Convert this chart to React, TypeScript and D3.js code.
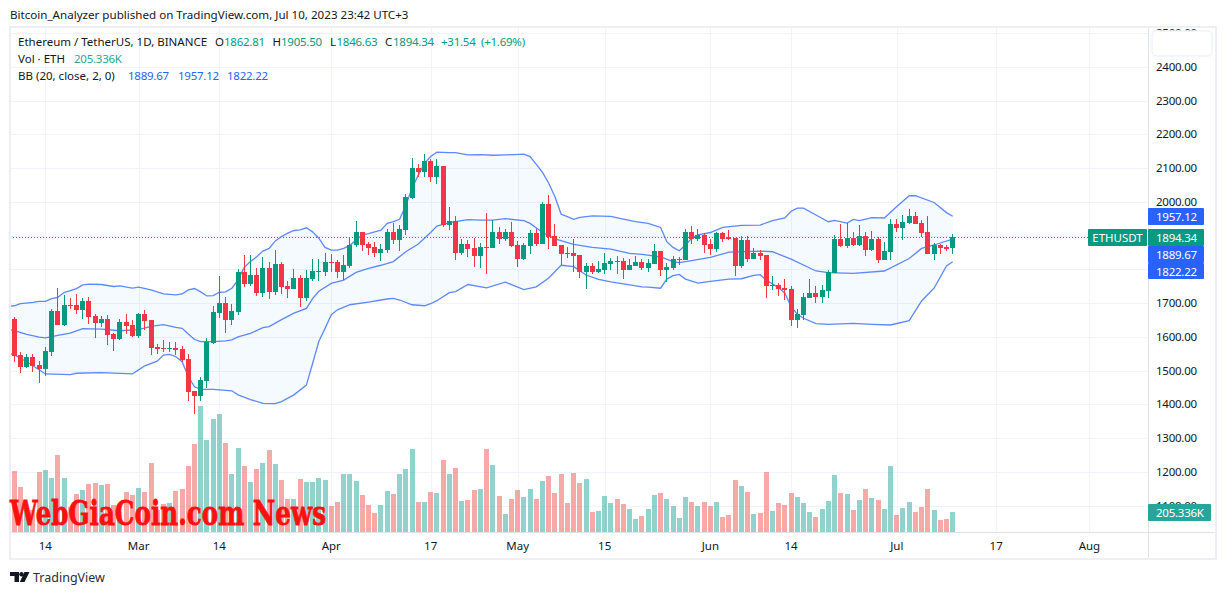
import * as d3 from "d3";

// daily candles, 2023-02-09 .. 2023-07-10
const opens = [
  1651.8, 1545, 1511.5, 1540, 1516.5, 1505.6, 1556, 1676.5, 1636, 1695.2,
  1694.3, 1680.4, 1706, 1661.7, 1641.9, 1652.8, 1608.3, 1594.5, 1643.9, 1635,
  1602.4, 1667.6, 1649.8, 1568.8, 1566.8, 1564.9, 1566.8, 1563.9, 1534.2, 1439.4,
  1425.6, 1470, 1580.7, 1671.5, 1700.2, 1650.8, 1674.5, 1792, 1756, 1783,
  1730.8, 1804, 1732.8, 1815.7, 1750.5, 1742, 1774, 1715, 1771, 1792,
  1792, 1821.6, 1821.6, 1793, 1808.8, 1871, 1910.5, 1875, 1866, 1848,
  1857, 1910.5, 1887, 1916.4, 2011, 2100, 2088, 2121, 2073.5, 2106,
  1931, 1943, 1848, 1875, 1863, 1839.4, 1866, 1863, 1910.5, 1889.8,
  1910.5, 1872, 1830.5, 1869, 1907.5, 1875, 1993.5, 1898.6, 1872, 1848,
  1848, 1842.4, 1792, 1809.8, 1792, 1798, 1815.7, 1824.6, 1824.6, 1798,
  1809.8, 1821.7, 1803.9, 1815.7, 1854.3, 1798, 1803.9, 1827.6, 1827.6, 1910.5,
  1889.8, 1901.7, 1875, 1860.2, 1907.6, 1895.7, 1892.8, 1809.8, 1886.8, 1830.5,
  1848.3, 1842.4, 1750.5, 1753.5, 1744.6, 1741.7, 1649.8, 1664.6, 1715, 1729.8,
  1718, 1735.7, 1789, 1889.8, 1869, 1892.8, 1872, 1898.7, 1857.2, 1889.8,
  1827.6, 1851.3, 1934.3, 1922.4, 1937.2, 1958, 1937.2, 1910.5, 1845.4, 1872,
  1866, 1862.81,
];
const closes = [
  1544.1, 1511.5, 1540, 1513.5, 1505.6, 1558, 1676.5, 1636, 1694.3, 1692.3,
  1680.4, 1706, 1659.7, 1641.9, 1652.8, 1606.4, 1594.5, 1643.9, 1633, 1602.4,
  1668.6, 1647.8, 1567.8, 1563.9, 1564.9, 1566.8, 1561.9, 1531.3, 1437.5, 1425.6,
  1472, 1583.6, 1673.5, 1700.2, 1650.8, 1676.5, 1792, 1756, 1783, 1729.8,
  1803.9, 1731.8, 1815.7, 1748.6, 1741.7, 1774, 1715, 1774, 1795, 1795,
  1821.6, 1818.6, 1792, 1812.7, 1871, 1910.5, 1871, 1863, 1848, 1860,
  1910.5, 1887, 1919.4, 2014, 2100, 2088, 2121, 2073.5, 2106, 1931,
  1943, 1848, 1875, 1860, 1839.4, 1866, 1863, 1910.5, 1889.8, 1910.5,
  1869, 1830.5, 1872, 1907.5, 1875, 1993.5, 1895.7, 1869, 1845.3, 1845.3,
  1839.4, 1792, 1809.8, 1792, 1800.9, 1818.6, 1824.6, 1821.6, 1798, 1812.7,
  1821.6, 1803.9, 1818.7, 1854.3, 1798, 1806.8, 1830.5, 1830.5, 1910.5, 1889.8,
  1901.7, 1872, 1860.2, 1907.6, 1889.8, 1889.8, 1809.8, 1886.8, 1830.5, 1848.3,
  1839.4, 1750.5, 1753.5, 1741.7, 1738.7, 1649.8, 1667.6, 1718, 1729.8, 1718,
  1738.7, 1792, 1889.8, 1869, 1893.8, 1872, 1898.7, 1857.2, 1889.8, 1827.6,
  1854.3, 1934.3, 1922.4, 1940.2, 1958, 1934.3, 1907.6, 1845.4, 1872, 1863,
  1860.2, 1894.34,
];
const highs = [
  1657.7, 1554, 1548, 1549, 1527.3, 1568.8, 1681.4, 1744.6, 1723.9, 1714,
  1726.9, 1716, 1718, 1667.6, 1662.7, 1664.6, 1610.3, 1651.8, 1667.6, 1648.8,
  1671.5, 1678.5, 1649.8, 1577.7, 1590.6, 1584.6, 1584.6, 1572.8, 1549, 1439.4,
  1480, 1595.5, 1692.3, 1780, 1717, 1697.2, 1801, 1842, 1842, 1804,
  1836.5, 1821.6, 1857, 1821.6, 1765, 1801, 1783, 1798, 1830.5, 1830.5,
  1848, 1845, 1827.6, 1842, 1895, 1943, 1910.5, 1882, 1881, 1874,
  1920.4, 1936, 1931, 2023, 2129.8, 2112, 2141.6, 2127, 2126.8, 2106,
  1984.6, 1958, 1890, 1887, 1892.7, 1878, 1966.8, 1946, 1925.3, 1919,
  1940, 1884, 1878, 1916.4, 1919.4, 1999.4, 2020, 1934, 1872, 1866,
  1889.8, 1842.4, 1818.6, 1818.6, 1824.6, 1848.3, 1833.5, 1839.4, 1833.5, 1830.5,
  1839.4, 1830.5, 1830.5, 1875, 1854.3, 1818.7, 1839.4, 1836.5, 1919.4, 1928.3,
  1919.4, 1907.6, 1889.8, 1910.5, 1910.5, 1916.5, 1892.8, 1898.7, 1898.7, 1863,
  1857.2, 1842.4, 1780.2, 1759.4, 1771.3, 1750.5, 1682.4, 1729.8, 1771.3, 1750.5,
  1753.5, 1798, 1901.7, 1934.3, 1937.2, 1910.5, 1931.3, 1910.5, 1913.5, 1895.7,
  1880.9, 1949, 1949, 1960.9, 1978.7, 1969.8, 1946, 1958, 1878, 1875,
  1872, 1905.5,
];
const lows = [
  1526.4, 1493.8, 1508.6, 1496.7, 1464.1, 1484.9, 1544.1, 1634, 1633, 1682.4,
  1668.6, 1652.8, 1639, 1597.5, 1629.1, 1576.7, 1558.9, 1591.5, 1608.3, 1599.4,
  1597.5, 1621.2, 1547.1, 1550, 1556, 1556, 1546.1, 1525.4, 1409.8, 1372.3,
  1410.8, 1448.3, 1578.7, 1655.7, 1612.3, 1636, 1665.6, 1747.6, 1750, 1721,
  1719, 1712, 1724, 1727, 1715, 1741, 1688, 1706, 1765, 1765,
  1781, 1793, 1775, 1768, 1803, 1867, 1854, 1842, 1835, 1825,
  1849, 1875, 1854, 1901.6, 2007, 2072.5, 2073.5, 2058.6, 2052.7, 1925.3,
  1916.4, 1827.5, 1842, 1836, 1806.8, 1803.8, 1786, 1863, 1875, 1883.8,
  1866, 1806.8, 1827.5, 1845, 1869, 1875, 1860, 1869, 1812.7, 1833.5,
  1792, 1774.2, 1741.6, 1786, 1789, 1786, 1798, 1786, 1771.2, 1798,
  1809.8, 1798, 1792, 1815.7, 1780.2, 1762.4, 1798, 1812.8, 1827.6, 1875,
  1883.9, 1848.3, 1842.4, 1851.3, 1881, 1886.8, 1780.2, 1803.9, 1821.7, 1830.5,
  1827.6, 1715, 1738.7, 1720.9, 1709, 1632, 1626, 1649.8, 1715, 1700,
  1700, 1715, 1789, 1866, 1863, 1869, 1869, 1839.4, 1854.2, 1818.7,
  1827.6, 1827.6, 1910.5, 1886.8, 1934.3, 1934, 1895.7, 1845, 1827.6, 1845.4,
  1854.2, 1846.63,
];

// volume in thousands of ETH; first entry is the 02-08 bar, cut by the left edge
const volumes = [
  401, 626, 462, 226, 226, 616, 637, 555, 791, 555, 257, 390, 431, 493, 503, 483, 493, 277, 205, 411,
  380, 452, 411, 709, 226, 288, 298, 421, 442, 678, 904, 1294, 945, 1161, 1212, 914, 596, 863, 678, 514,
  647, 709, 842, 698, 534, 339, 339, 544, 514, 514, 555, 534, 267, 308, 596, 596, 524, 380, 277, 195,
  277, 421, 390, 596, 647, 852, 308, 308, 411, 401, 739, 596, 657, 318, 329, 431, 442, 852, 688, 370,
  185, 339, 431, 359, 442, 339, 524, 575, 401, 596, 298, 606, 503, 544, 205, 216, 370, 298, 339, 288,
  236, 134, 164, 236, 380, 401, 339, 267, 144, 359, 308, 267, 308, 267, 308, 154, 175, 534, 472, 411,
  185, 195, 616, 216, 298, 277, 401, 359, 298, 205, 154, 236, 318, 585, 401, 390, 226, 329, 442, 349,
  329, 236, 678, 175, 246, 308, 205, 257, 442, 226, 123, 134, 205.336,
];

// bollinger bands as [candle index, price]
const bbUpper: [number, number][] = [
  [-1, 1690], [0, 1692], [1, 1698], [3, 1702], [4, 1705], [5, 1705], [6, 1713], [7, 1717], [8, 1731], [10, 1743],
  [11, 1754], [12, 1756], [14, 1755], [16, 1749], [17, 1751], [19, 1744], [20, 1747], [22, 1739], [24, 1727], [26, 1724],
  [27, 1727], [28, 1739], [29, 1743], [30, 1733], [31, 1721], [32, 1722], [33, 1732], [34, 1733], [35, 1744], [36, 1768],
  [37, 1806], [38, 1823], [39, 1837], [40, 1854], [41, 1862], [42, 1884], [43, 1897], [44, 1907], [45, 1915], [46, 1917],
  [47, 1923], [48, 1911], [49, 1892], [50, 1865], [51, 1857], [52, 1857], [53, 1862], [54, 1871], [55, 1887], [56, 1902],
  [57, 1906], [58, 1911], [59, 1916], [60, 1936], [61, 1941], [62, 1948], [63, 1990], [64, 2040], [65, 2079], [66, 2114],
  [67, 2134], [68, 2147], [70, 2146], [71, 2146], [73, 2139], [75, 2140], [77, 2138], [79, 2139], [82, 2141], [83, 2134],
  [84, 2111], [85, 2087], [86, 2055], [87, 2015], [88, 1963], [89, 1956], [90, 1948], [91, 1954], [93, 1958], [96, 1957],
  [98, 1949], [100, 1941], [102, 1936], [104, 1924], [105, 1882], [106, 1865], [107, 1855], [108, 1872], [109, 1892], [110, 1902],
  [112, 1909], [114, 1924], [117, 1930], [120, 1931], [122, 1944], [124, 1952], [125, 1972], [126, 1981], [127, 1981], [129, 1961],
  [131, 1941], [132, 1945], [134, 1937], [135, 1948], [136, 1944], [137, 1949], [138, 1953], [140, 1952], [142, 1986], [144, 2018],
  [145, 2018], [148, 1998], [150, 1968], [151, 1957.12],
];
const bbMiddle: [number, number][] = [
  [-1, 1622], [0, 1618], [2, 1607], [4, 1599], [5, 1597], [7, 1604], [9, 1611], [11, 1624], [14, 1623], [17, 1618],
  [20, 1621], [22, 1631], [24, 1636], [26, 1628], [27, 1625], [28, 1608], [29, 1592], [30, 1586], [32, 1586], [34, 1588],
  [35, 1591], [36, 1600], [38, 1610], [40, 1627], [41, 1630], [43, 1651], [45, 1670], [47, 1684], [48, 1713], [49, 1735],
  [51, 1758], [53, 1768], [55, 1791], [57, 1803], [59, 1812], [61, 1823], [63, 1852], [65, 1875], [67, 1909], [68, 1928],
  [70, 1938], [73, 1947], [75, 1946], [77, 1946], [79, 1950], [82, 1944], [83, 1936], [85, 1909], [87, 1890], [90, 1874],
  [93, 1865], [96, 1860], [99, 1847], [101, 1844], [104, 1837], [106, 1823], [107, 1820], [109, 1826], [112, 1835], [115, 1851],
  [120, 1854], [122, 1852], [125, 1830], [129, 1795], [131, 1790], [135, 1788], [140, 1795], [144, 1832], [146, 1862], [148, 1872],
  [151, 1889.67],
];
const bbLower: [number, number][] = [
  [-1, 1553], [0, 1546], [2, 1526], [5, 1490], [9, 1488], [10, 1492], [14, 1494], [19, 1490], [20, 1502], [21, 1514],
  [23, 1528], [24, 1546], [25, 1548], [26, 1541], [27, 1526], [28, 1482], [29, 1452], [30, 1444], [32, 1444], [35, 1440],
  [36, 1428], [38, 1414], [40, 1403], [42, 1402], [43, 1408], [45, 1428], [47, 1457], [48, 1521], [49, 1586], [50, 1625],
  [51, 1665], [52, 1680], [54, 1695], [57, 1703], [59, 1709], [60, 1712], [61, 1714], [62, 1709], [64, 1695], [66, 1692],
  [67, 1698], [68, 1707], [70, 1731], [71, 1734], [73, 1755], [76, 1745], [79, 1762], [82, 1740], [84, 1748], [86, 1774],
  [88, 1812], [90, 1808], [92, 1783], [94, 1770], [96, 1763], [99, 1754], [101, 1748], [102, 1747], [104, 1744], [105, 1771],
  [106, 1781], [107, 1785], [108, 1771], [110, 1759], [112, 1764], [115, 1771], [117, 1772], [119, 1782], [120, 1784], [121, 1768],
  [123, 1745], [124, 1729], [125, 1689], [126, 1667], [127, 1655], [129, 1639], [131, 1637], [135, 1640], [138, 1637], [141, 1635],
  [144, 1648], [146, 1706], [148, 1744], [150, 1810], [151, 1822.22],
];

const priceTicks = [2500, 2400, 2300, 2200, 2100, 2000, 1900, 1800, 1700, 1600, 1500, 1400, 1300, 1200, 1100];
const timeTicks = ["2023-02-14", "2023-03-01", "2023-03-14", "2023-04-01", "2023-04-17", "2023-05-01", "2023-05-15", "2023-06-01", "2023-06-14", "2023-07-01", "2023-07-17", "2023-08-01"];
const timeLabels = ["14", "Mar", "14", "Apr", "17", "May", "15", "Jun", "14", "Jul", "17", "Aug"];

const UP = "#089981";
const DOWN = "#f23645";
const BLUE = "#2962ff";
const GRID = "#f0f3fa";
const TEXT = "#131722";
const FONT = "'Noto Sans', sans-serif";
const NUM_SPACING = -0.25; // digits run narrower in the original font

const idx = d3.scaleLinear().domain([0, 151]).range([14.3, 952.7]);
const time = d3.scaleUtc().domain([new Date("2023-02-09"), new Date("2023-07-10")]).range([14.3, 952.7]);
const y = d3.scaleLinear().domain([2000, 1400]).range([201.8, 404.3]);
const yVol = d3.scaleLinear().domain([0, 1294]).range([532, 406]);

const line = d3.line<[number, number]>().x((d) => idx(d[0])).y((d) => y(d[1]));
const bandPath = line([...bbUpper, ...[...bbLower].reverse()]) + "Z";

const legendRows = [
  { x: 18, y: 42, t: "Ethereum / TetherUS, 1D, BINANCE", c: TEXT },
  { x: 215, y: 42, t: "O", c: TEXT },
  { x: 224, y: 42, t: "1862.81", c: UP },
  { x: 272.5, y: 42, t: "H", c: TEXT },
  { x: 281, y: 42, t: "1905.50", c: UP },
  { x: 330, y: 42, t: "L", c: TEXT },
  { x: 336.5, y: 42, t: "1846.63", c: UP },
  { x: 385, y: 42, t: "C", c: TEXT },
  { x: 393, y: 42, t: "1894.34", c: UP },
  { x: 441, y: 42, t: "+31.54", c: UP },
  { x: 481, y: 42, t: "(+1.69%)", c: UP },
  { x: 18, y: 59, t: "Vol · ETH", c: TEXT },
  { x: 74, y: 59, t: "205.336K", c: "#26a69a" },
  { x: 18, y: 75.5, t: "BB (20, close, 2, 0)", c: TEXT },
  { x: 128, y: 75.5, t: "1889.67", c: BLUE },
  { x: 178, y: 75.5, t: "1957.12", c: BLUE },
  { x: 227, y: 75.5, t: "1822.22", c: BLUE },
];

const priceBoxes = [
  { t: "1957.12", top: 208, h: 17, c: BLUE },
  { t: "1894.34", top: 229, h: 17, c: UP },
  { t: "1889.67", top: 246, h: 17, c: BLUE },
  { t: "1822.22", top: 263, h: 16, c: BLUE },
];

export default function App() {
  return (
    <svg
      width={1226}
      height={595}
      style={{ position: "absolute", left: 0, top: 0, background: "#fff" }}
      fontFamily={FONT}
      fontSize={11.5}
    >
      <defs>
        <clipPath id="plot">
          <rect x={10} y={27} width={1138} height={505} />
        </clipPath>
      </defs>

      <text x={10} y={19} fill={TEXT} fontSize={11.6}>
        Bitcoin_Analyzer published on TradingView.com, Jul 10, 2023 23:42 UTC+3
      </text>

      {/* grid */}
      {priceTicks.map((p) => (
        <line key={p} x1={10} x2={1148} y1={Math.round(y(p)) + 0.5} y2={Math.round(y(p)) + 0.5} stroke={GRID} />
      ))}
      {timeTicks.map((d) => {
        const x = Math.round(time(new Date(d))) + 0.5;
        return <line key={d} x1={x} x2={x} y1={27} y2={532} stroke={GRID} />;
      })}

      <g clipPath="url(#plot)">
        {/* volume */}
        {volumes.map((v, k) => {
          const i = k - 1;
          const up = i >= 0 ? closes[i] >= opens[i] : false;
          const top = Math.round(yVol(v));
          return (
            <rect
              key={k}
              x={Math.floor(idx(i)) - 2}
              y={top}
              width={5}
              height={532 - top}
              fill={up ? "#26a69a" : "#ef5350"}
              fillOpacity={0.5}
            />
          );
        })}

        {/* bollinger bands */}
        <path d={bandPath} fill="#2196f3" fillOpacity={0.05} />
        <path d={line(bbUpper)!} fill="none" stroke={BLUE} strokeOpacity={0.75} strokeWidth={1.3} />
        <path d={line(bbMiddle)!} fill="none" stroke={BLUE} strokeOpacity={0.75} strokeWidth={1.3} />
        <path d={line(bbLower)!} fill="none" stroke={BLUE} strokeOpacity={0.75} strokeWidth={1.3} />

        {/* candles */}
        {opens.map((o, i) => {
          const c = closes[i];
          const col = c >= o ? UP : DOWN;
          const x = Math.floor(idx(i));
          const top = Math.round(y(Math.max(o, c)));
          const bot = Math.round(y(Math.min(o, c)));
          const hi = Math.round(y(highs[i]));
          const lo = Math.round(y(lows[i]));
          return (
            <g key={i} fill={col}>
              <rect x={x} y={hi} width={1} height={lo - hi} />
              <rect x={x - 2} y={top} width={5} height={Math.max(1, bot - top)} />
            </g>
          );
        })}

        {/* last price line */}
        <line x1={10} x2={1088} y1={237.5} y2={237.5} stroke={UP} strokeDasharray="1 2" />
      </g>

      {/* frame and axis separators */}
      <line x1={10} x2={1216} y1={532.5} y2={532.5} stroke="#e0e3eb" />
      <line x1={1148.5} x2={1148.5} y1={27} y2={559} stroke="#e0e3eb" />
      <rect x={10} y={27} width={1206} height={532} fill="none" stroke="#eeeff5" strokeWidth={2} />

      {/* price axis */}
      {priceTicks.map((p) => (
        <text key={p} x={1156} y={y(p) + 4} fill={TEXT} letterSpacing={NUM_SPACING}>
          {p.toFixed(2)}
        </text>
      ))}
      <rect x={1152} y={31} width={60} height={25} rx={4} fill="#fff" stroke="#f0f3fa" strokeWidth={1.5} />

      {/* time axis */}
      {timeTicks.map((d, i) => (
        <text key={d} x={time(new Date(d))} y={550} textAnchor="middle" fill={TEXT}>
          {timeLabels[i]}
        </text>
      ))}

      {/* legend */}
      {legendRows.map((r, i) => (
        <text key={i} x={r.x} y={r.y + 4} fill={r.c} letterSpacing={r.c === TEXT ? 0 : NUM_SPACING}>
          {r.t}
        </text>
      ))}

      {/* price labels */}
      <rect x={1088} y={229} width={59} height={17} rx={1} fill={UP} />
      <text x={1117.5} y={242} textAnchor="middle" fill="#fff">
        ETHUSDT
      </text>
      {priceBoxes.map((b) => (
        <g key={b.t}>
          <rect x={1148} y={b.top} width={56} height={b.h} rx={1} fill={b.c} />
          <text x={1156} y={b.top + 13} fill="#fff" letterSpacing={NUM_SPACING}>
            {b.t}
          </text>
        </g>
      ))}
      <rect x={1148} y={504} width={63} height={17} rx={1} fill="#26a69a" />
      <text x={1156} y={517} fill="#fff" letterSpacing={NUM_SPACING}>
        205.336K
      </text>

      {/* watermark */}
      <text
        x={10}
        y={525}
        fontFamily="'DejaVu Serif', serif"
        fontWeight={700}
        fontSize={33}
        fill="#ff0f0f"
        stroke="#ff0f0f"
        strokeWidth={0.8}
        textLength={316}
        lengthAdjust="spacingAndGlyphs"
      >
        WebGiaCoin.com News
      </text>

      {/* footer logo */}
      <g fill="#131722">
        <path d="M10 572H19V582H14.5V576H10Z" />
        <circle cx={21.5} cy={574.2} r={2.2} />
        <path d="M24.5 572H29.5L24.5 582H19.8Z" />
      </g>
      <text x={33} y={582} fontSize={12.5} fill="#2a2e39">
        TradingView
      </text>
    </svg>
  );
}
